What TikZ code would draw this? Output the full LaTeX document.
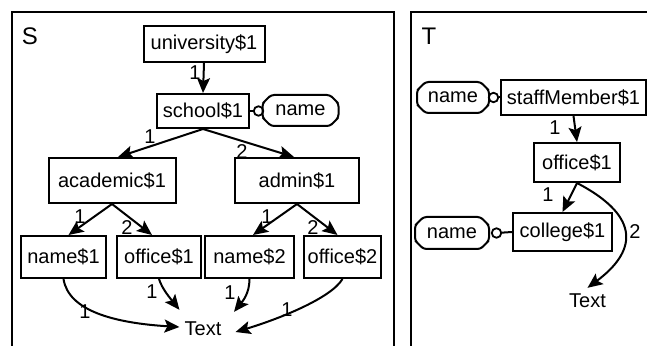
\documentclass[tikz,border=0pt]{standalone}
\usepackage{fontspec}
\setmainfont{Liberation Sans}
\usetikzlibrary{arrows.meta,shapes.misc}
\begin{document}
\begin{tikzpicture}[x=1pt,y=1pt,
  every node/.style={font=\fontsize{20}{24}\selectfont},
  box/.style={draw,line width=2pt,inner sep=0pt},
  attr/.style={draw,line width=2pt,chamfered rectangle,
    chamfered rectangle xsep=5pt,rounded corners=3pt,inner sep=0pt},
  conn/.style={draw,circle,line width=1.8pt,fill=white,minimum size=9.5pt,inner sep=0pt},
  arr/.style={line width=2pt,-{Stealth[length=15pt,width=13pt,inset=3pt]}},
  link/.style={line width=2pt},
  lbl/.style={inner sep=0pt},
  txt/.style={inner sep=0pt},
  title/.style={inner sep=0pt,font=\fontsize{24}{28}\selectfont},
  frame/.style={line width=2pt}
]
\useasboundingbox (0,0) rectangle (647,345);

% frames
\draw[frame] (12,-5) -- (12,333) -- (394,333) -- (394,-5);
\draw[frame] (411,-5) -- (411,333) -- (655,333);
\node[title] (S) at (30,309) {S};
\node[title] (T) at (429,309) {T};

% ---- S tree ----
\node[box,minimum width=121pt,minimum height=36pt] (univ) at (204,301) {university\$1};
\node[box,minimum width=92pt,minimum height=34pt] (school) at (203,234) {school\$1};
\node[conn] (cS) at (258.5,234) {};
\node[attr,minimum width=76pt,minimum height=31pt] (nameS) at (300.5,234.5) {name};
\node[box,minimum width=127pt,minimum height=45pt] (acad) at (112,164.5) {academic\$1};
\node[box,minimum width=124pt,minimum height=45pt] (admin) at (297,164.5) {admin\$1};
\node[box,minimum width=85pt,minimum height=42pt] (name1) at (63.5,88) {name\$1};
\node[box,minimum width=84pt,minimum height=42pt] (office1) at (159,88) {office\$1};
\node[box,minimum width=89pt,minimum height=42pt] (name2) at (249.5,88) {name\$2};
\node[box,minimum width=77pt,minimum height=42pt] (office2) at (342.5,88) {office\$2};
\node[txt] (txtS) at (203,16.5) {Text};

\draw[link] (school.east) -- (cS);
\draw[arr] (univ.south) -- (school.north);
\draw[arr] (school.south) -- ([xshift=6pt]acad.north);
\draw[arr] (school.south) -- ([xshift=-3pt]admin.north);
\draw[arr] (acad.south) -- ([xshift=5pt]name1.north);
\draw[arr] (acad.south) -- ([xshift=-7pt]office1.north);
\draw[arr] (admin.south) -- ([xshift=3.5pt]name2.north);
\draw[arr] (admin.south) -- ([xshift=-5pt]office2.north);
\draw[arr] (name1.south) .. controls +(5,-32) and +(-65,4) .. ([xshift=-5pt,yshift=1.5pt]txtS.west);
\draw[arr] (office1.south) .. controls +(3,-10) and +(-8,10) .. ([xshift=-5pt,yshift=11.5pt]txtS.north west);
\draw[arr] (name2.south) .. controls +(0,-15) and +(8,10) .. ([xshift=12.5pt,yshift=9.5pt]txtS.north east);
\draw[arr] (office2.south) .. controls +(-12,-20) and +(40,12) .. ([xshift=14pt,yshift=-3.5pt]txtS.east);

\node[lbl] (l1) at (195,272) {1};
\node[lbl] (l2) at (150,208) {1};
\node[lbl] (l3) at (242,193) {2};
\node[lbl] (l4) at (80,128) {1};
\node[lbl] (l5) at (127,117) {2};
\node[lbl] (l6) at (267,128) {1};
\node[lbl] (l7) at (313,117) {2};
\node[lbl] (l8) at (85,33) {1};
\node[lbl] (l9) at (152,53) {1};
\node[lbl] (l10) at (230,52) {1};
\node[lbl] (l11) at (287,35) {1};

% ---- T tree ----
\node[box,minimum width=145pt,minimum height=35pt] (staff) at (573.5,247.5) {staffMember\$1};
\node[attr,minimum width=72pt,minimum height=31pt] (nameT1) at (453,247.5) {name};
\node[conn] (cT1) at (493.5,247.5) {};
\node[box,minimum width=86pt,minimum height=39pt] (officeT) at (577,182.5) {office\$1};
\node[box,minimum width=99pt,minimum height=38pt] (college) at (562.5,113) {college\$1};
\node[attr,minimum width=74pt,minimum height=32pt] (nameT2) at (452,112) {name};
\node[conn] (cT2) at (496.5,112) {};
\node[txt] (txtT) at (587.5,44.5) {Text};

\draw[link] (cT1) -- (staff.west);
\draw[link] (cT2) -- (college.west);
\draw[arr] (staff.south) -- (officeT.north);
\draw[arr] (officeT.south) -- (college.north);
\draw[arr] (officeT.south) .. controls +(67,-35) and +(47,35) .. ([yshift=5.5pt]txtT.north);

\node[lbl] (m1) at (555,217) {1};
\node[lbl] (m2) at (548,150) {1};
\node[lbl] (m3) at (635,113) {2};
\end{tikzpicture}
\end{document}
